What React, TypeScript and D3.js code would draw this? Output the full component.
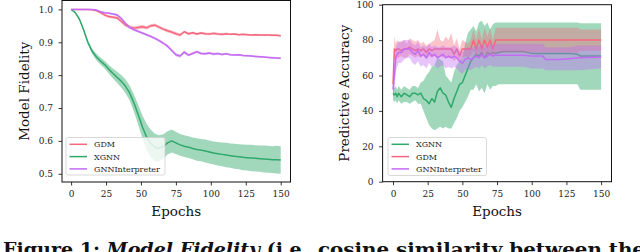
import React, { useEffect, useRef } from "react";
import * as d3 from "d3";

// ---- data ----
// left panel: model fidelity, sampled every 3 epochs
const fidEpochs = [0, 3, 6, 9, 12, 15, 18, 21, 24, 27, 30, 33, 36, 39, 42, 45, 48, 51, 54, 57, 60, 63, 66, 69, 72, 75, 78, 81, 84, 87, 90, 93, 96, 99, 102, 105, 108, 111, 114, 117, 120, 123, 126, 129, 132, 135, 138, 141, 144, 147, 150];
const gdmFid = [1.0, 1.0, 1.0, 1.0, 1.0, 0.999, 0.996, 0.99, 0.983, 0.978, 0.976, 0.974, 0.963, 0.952, 0.946, 0.943, 0.945, 0.947, 0.944, 0.95, 0.952, 0.946, 0.94, 0.935, 0.931, 0.926, 0.922, 0.932, 0.926, 0.929, 0.925, 0.928, 0.926, 0.925, 0.927, 0.925, 0.924, 0.926, 0.924, 0.925, 0.923, 0.924, 0.923, 0.922, 0.923, 0.922, 0.922, 0.922, 0.921, 0.921, 0.92];
const gdmFidStd = [0, 0, 0, 0, 0, 0.001, 0.002, 0.003, 0.004, 0.004, 0.004, 0.005, 0.005, 0.005, 0.006, 0.006, 0.006, 0.006, 0.005, 0.005, 0.005, 0.005, 0.005, 0.005, 0.005, 0.005, 0.005, 0.004, 0.004, 0.004, 0.004, 0.004, 0.004, 0.004, 0.004, 0.004, 0.004, 0.004, 0.003, 0.003, 0.003, 0.003, 0.003, 0.003, 0.003, 0.003, 0.003, 0.003, 0.003, 0.003, 0.003];
const xgnnFid = [1.0, 0.99, 0.97, 0.937, 0.9, 0.873, 0.856, 0.843, 0.832, 0.818, 0.805, 0.793, 0.781, 0.766, 0.745, 0.715, 0.68, 0.643, 0.612, 0.592, 0.58, 0.577, 0.583, 0.594, 0.6, 0.594, 0.588, 0.584, 0.581, 0.577, 0.574, 0.572, 0.569, 0.566, 0.563, 0.561, 0.559, 0.557, 0.555, 0.553, 0.552, 0.55, 0.549, 0.548, 0.547, 0.546, 0.545, 0.544, 0.543, 0.543, 0.542];
const xgnnFidStd = [0, 0.002, 0.003, 0.004, 0.006, 0.008, 0.01, 0.011, 0.012, 0.013, 0.015, 0.017, 0.019, 0.021, 0.023, 0.026, 0.03, 0.035, 0.04, 0.042, 0.042, 0.04, 0.037, 0.035, 0.035, 0.034, 0.033, 0.033, 0.033, 0.033, 0.034, 0.034, 0.035, 0.035, 0.035, 0.036, 0.036, 0.037, 0.037, 0.038, 0.038, 0.039, 0.039, 0.04, 0.04, 0.04, 0.041, 0.041, 0.041, 0.042, 0.042];
const gnniFid = [1.0, 1.0, 1.0, 1.0, 1.0, 1.0, 0.998, 0.993, 0.99, 0.988, 0.986, 0.983, 0.972, 0.957, 0.945, 0.938, 0.933, 0.928, 0.923, 0.918, 0.912, 0.905, 0.897, 0.888, 0.875, 0.862, 0.858, 0.87, 0.861, 0.866, 0.871, 0.866, 0.865, 0.867, 0.864, 0.866, 0.863, 0.865, 0.862, 0.861, 0.862, 0.86, 0.859, 0.858, 0.857, 0.856, 0.855, 0.854, 0.853, 0.852, 0.851];
const gnniFidStd = [0, 0, 0, 0, 0, 0, 0.001, 0.002, 0.003, 0.003, 0.003, 0.004, 0.004, 0.004, 0.004, 0.004, 0.004, 0.004, 0.004, 0.004, 0.004, 0.004, 0.004, 0.005, 0.005, 0.005, 0.005, 0.005, 0.004, 0.004, 0.004, 0.004, 0.004, 0.004, 0.004, 0.003, 0.003, 0.003, 0.003, 0.003, 0.003, 0.003, 0.003, 0.003, 0.003, 0.003, 0.003, 0.003, 0.003, 0.003, 0.003];

// right panel: predictive accuracy (mean, band low, band high)
const accEpochs = [0, 1, 2, 3, 4, 6, 8, 10, 12, 14, 16, 18, 20, 22, 24, 26, 28, 30, 32, 34, 36, 38, 40, 42, 44, 46, 48, 50, 52, 54, 56, 58, 60, 62, 64, 66, 68, 70, 72, 74, 76, 80, 86, 94, 100, 108, 110, 120, 127, 133, 135, 150];
const xgnnAcc = [50, 49, 50, 48, 50, 48, 50, 49, 48, 50, 50, 49, 50, 47, 46, 44, 47, 45, 51, 53, 50, 49, 45, 42, 47, 51, 55, 56, 60, 64, 68, 70, 72, 71, 73, 70, 73, 72, 73, 72.5, 73, 73.5, 73.5, 73.5, 72.5, 72.5, 72.5, 72.5, 72.5, 72, 71, 71];
const xgnnAccLo = [46, 45, 46, 44, 46, 44, 45, 45, 44, 45, 46, 44, 44, 40, 36, 32, 30, 29, 30, 31, 30, 31, 30, 30, 33, 36, 40, 42, 45, 48, 52, 52, 55, 51, 53, 50, 55, 52, 54, 54, 55, 55, 55, 55, 55, 55, 55, 55, 55, 55, 52, 52];
const xgnnAccHi = [53, 53, 54, 52, 54, 52, 54, 53, 52, 54, 54, 53, 56, 57, 60, 62, 65, 66, 70, 69, 68, 60, 58, 56, 62, 66, 68, 70, 78, 84, 86, 88, 85, 90, 91, 88, 90, 86, 89, 90, 90, 90, 90, 90, 90, 90, 90, 90, 90, 90, 89.5, 89.5];
const gdmAcc = [55, 75, 74, 75, 75, 74, 75, 75, 76, 75, 74, 75, 74, 75, 73, 75, 74, 75, 75, 75, 75, 75, 75, 75, 72, 75, 71, 75, 75, 75, 75, 80, 75, 80, 75, 80, 76, 80, 75, 80, 80, 80, 80, 80, 80, 80, 80, 80, 80, 80, 80, 80];
const gdmAccLo = [50, 70, 69, 70, 70, 71, 70, 70, 72, 71, 70, 71, 70, 72, 69, 71, 70, 71, 70, 71, 70, 71, 70, 70, 68, 70, 67, 70, 71, 70, 71, 74, 70, 73, 70, 73, 70, 73, 70, 73, 73, 73, 73, 73, 73, 73, 73, 73, 73, 73, 74, 74];
const gdmAccHi = [60, 82, 78, 80, 79, 79, 80, 78, 81, 80, 79, 80, 78, 79, 77, 78, 79, 80, 86, 80, 79, 82, 80, 84, 77, 81, 75, 80, 79, 78, 80, 86, 80, 87, 80, 87, 82, 87, 80, 87, 87, 87, 87, 87, 87, 87, 87, 87, 87, 87, 86, 86];
const gnniAcc = [52, 60, 70, 72, 73, 73, 75, 75, 75, 73, 72, 74, 71, 72, 70, 73, 71, 72, 70, 71, 72, 70, 71, 70, 71, 70, 68, 67, 69, 70, 69, 70, 71, 70, 72, 70, 71, 72, 71, 71.5, 71.5, 71.5, 71.5, 71.5, 71, 71, 69, 69, 69.5, 70, 70, 70.5];
const gnniAccLo = [48, 52, 62, 65, 67, 67, 69, 70, 70, 67, 66, 68, 65, 66, 64, 67, 65, 66, 64, 65, 66, 64, 65, 64, 65, 64, 62, 61, 63, 64, 63, 64, 65, 64, 66, 64, 65, 66, 65, 65, 65, 65, 65, 65, 64, 64, 63, 63, 63, 63, 63, 64];
const gnniAccHi = [56, 68, 76, 78, 79, 79, 80, 80, 80, 78, 77, 79, 76, 77, 76, 78, 76, 77, 76, 76, 77, 76, 76, 76, 77, 76, 74, 73, 75, 76, 75, 76, 77, 76, 78, 76, 77, 78, 77, 78, 78, 78, 78, 78, 78, 78, 76, 76, 76, 77, 77, 77];

const epochTicks = [0, 25, 50, 75, 100, 125, 150];
const fidTicks = [0.5, 0.6, 0.7, 0.8, 0.9, 1.0];
const accTicks = [0, 20, 40, 60, 80, 100];

const RED = "#f6687e";
const GREEN = "#2ea86b";
const PURPLE = "#c46bf3";
const FONT = "'DejaVu Serif', serif";

type Series = { name: string; color: string; mean: number[]; lo: number[]; hi: number[]; alpha: number };

function drawPanel(root: any, p: any) {
  const x = d3.scaleLinear().domain(p.xDomain).range(p.xRange);
  const y = d3.scaleLinear().domain(p.yDomain).range(p.yRange);
  const g = root.append("g");

  p.series.forEach((s: Series) => {
    const rows = s.mean.map((m, i) => ({ e: p.epochs[i], m, lo: s.lo[i], hi: s.hi[i] }));
    g.append("path")
      .attr("d", d3.area<any>().x(d => x(d.e)).y0(d => y(d.lo)).y1(d => y(d.hi))(rows))
      .attr("fill", s.color)
      .attr("fill-opacity", s.alpha);
    g.append("path")
      .attr("d", d3.line<any>().x(d => x(d.e)).y(d => y(d.m))(rows))
      .attr("fill", "none")
      .attr("stroke", s.color)
      .attr("stroke-width", 1.5)
      .attr("stroke-linejoin", "round");
  });

  // axes
  const xa = g.append("g")
    .attr("transform", `translate(0,${p.yRange[0]})`)
    .call(d3.axisBottom(x).tickValues(epochTicks).tickSize(3.5).tickPadding(5.5).tickFormat(d3.format("d")));
  const ya = g.append("g")
    .attr("transform", `translate(${p.xRange[0]},0)`)
    .call(d3.axisLeft(y).tickValues(p.yTicks).tickSize(3.5).tickPadding(5.5).tickFormat(p.yFormat));
  [xa, ya].forEach(a => {
    a.select(".domain").remove();
    a.selectAll("line").attr("stroke", "#222").attr("stroke-width", 0.9);
    a.selectAll("text").attr("font-family", FONT).attr("font-size", 9).attr("fill", "#222");
  });

  // spines
  g.append("rect")
    .attr("x", p.xRange[0]).attr("y", p.yRange[1])
    .attr("width", p.xRange[1] - p.xRange[0]).attr("height", p.yRange[0] - p.yRange[1])
    .attr("fill", "none").attr("stroke", "#111").attr("stroke-width", 1);

  // labels
  const cx = (p.xRange[0] + p.xRange[1]) / 2;
  const cy = (p.yRange[0] + p.yRange[1]) / 2;
  g.append("text").attr("x", cx).attr("y", 216).attr("text-anchor", "middle")
    .attr("font-family", FONT).attr("font-size", 13.5).attr("fill", "#111").text("Epochs");
  g.append("text").attr("transform", `translate(${p.yLabelX},${cy}) rotate(-90)`)
    .attr("text-anchor", "middle").attr("font-family", FONT).attr("font-size", 13.5).attr("fill", "#111")
    .text(p.yLabel);

  // legend
  const L = p.legend;
  const lg = g.append("g");
  lg.append("rect").attr("x", L.x).attr("y", L.y).attr("width", L.w).attr("height", L.h)
    .attr("rx", 2).attr("fill", "#fff").attr("fill-opacity", 0.8)
    .attr("stroke", "#cfcfcf").attr("stroke-width", 0.8);
  p.series.forEach((s: Series, i: number) => {
    const yy = L.y + 6.8 + i * 12.3;
    lg.append("line").attr("x1", L.x + 3.5).attr("x2", L.x + 21).attr("y1", yy).attr("y2", yy)
      .attr("stroke", s.color).attr("stroke-width", 1.5);
    lg.append("text").attr("x", L.x + 28).attr("y", yy + 3)
      .attr("font-family", FONT).attr("font-size", 8).attr("fill", "#222").text(s.name);
  });
}

export default function App() {
  const ref = useRef<SVGSVGElement>(null);

  useEffect(() => {
    const svg = d3.select(ref.current);
    svg.selectAll("*").remove();

    const band = (mean: number[], std: number[], sign: number) => mean.map((m, i) => m + sign * std[i]);

    drawPanel(svg, {
      epochs: fidEpochs,
      xDomain: [-6.5, 157], xRange: [62, 290.5],
      yDomain: [0.475, 1.027], yRange: [182, 0.5],
      yTicks: fidTicks, yFormat: d3.format(".1f"),
      yLabel: "Model Fidelity", yLabelX: 29,
      legend: { x: 66, y: 137.5, w: 99, h: 37.5 },
      series: [
        { name: "GDM", color: RED, mean: gdmFid, lo: band(gdmFid, gdmFidStd, -1), hi: band(gdmFid, gdmFidStd, 1), alpha: 0.4 },
        { name: "XGNN", color: GREEN, mean: xgnnFid, lo: band(xgnnFid, xgnnFidStd, -1), hi: band(xgnnFid, xgnnFidStd, 1), alpha: 0.45 },
        { name: "GNNInterpreter", color: PURPLE, mean: gnniFid, lo: band(gnniFid, gnniFidStd, -1), hi: band(gnniFid, gnniFidStd, 1), alpha: 0.4 },
      ],
    });

    drawPanel(svg, {
      epochs: accEpochs,
      xDomain: [-7.5, 157.5], xRange: [382.6, 611.5],
      yDomain: [0, 100], yRange: [181.7, 4.7],
      yTicks: accTicks, yFormat: d3.format("d"),
      yLabel: "Predictive Accuracy", yLabelX: 349,
      legend: { x: 388, y: 137.5, w: 98.5, h: 38 },
      series: [
        { name: "XGNN", color: GREEN, mean: xgnnAcc, lo: xgnnAccLo, hi: xgnnAccHi, alpha: 0.45 },
        { name: "GDM", color: RED, mean: gdmAcc, lo: gdmAccLo, hi: gdmAccHi, alpha: 0.4 },
        { name: "GNNInterpreter", color: PURPLE, mean: gnniAcc, lo: gnniAccLo, hi: gnniAccHi, alpha: 0.4 },
      ],
    });

    // caption (cut off at the bottom of the picture)
    const cap1 = svg.append("text").attr("x", 3).attr("y", 256)
      .attr("font-family", FONT).attr("font-size", 18).attr("font-weight", "bold").attr("fill", "#111")
      .attr("textLength", 312).attr("lengthAdjust", "spacingAndGlyphs");
    cap1.append("tspan").text("Figure 1: ");
    cap1.append("tspan").attr("font-style", "italic").text("Model Fidelity");
    cap1.append("tspan").text(" (i.e.,");
    svg.append("text").attr("x", 318).attr("y", 256)
      .attr("font-family", FONT).attr("font-size", 18).attr("font-weight", "bold").attr("fill", "#111")
      .attr("textLength", 327).attr("lengthAdjust", "spacingAndGlyphs")
      .text("cosine similarity between the");
  }, []);

  return (
    <svg ref={ref} width={640} height={252}
      style={{ position: "absolute", left: 0, top: 0, background: "#fff" }} />
  );
}
